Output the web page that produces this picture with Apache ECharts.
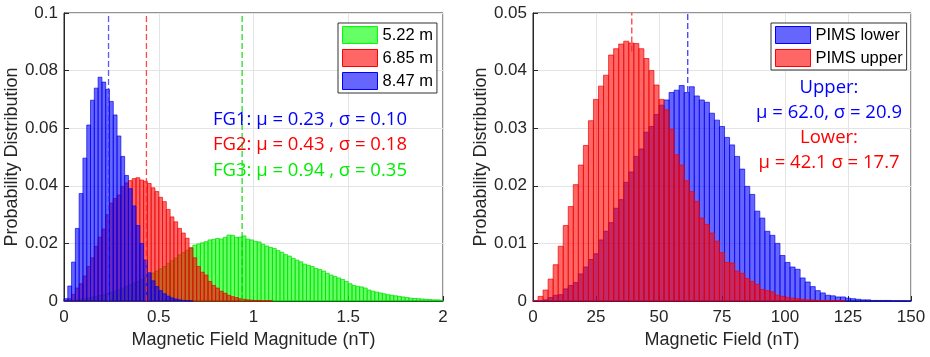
<!DOCTYPE html>
<html>
<head>
<meta charset="utf-8">
<script src="https://cdn.jsdelivr.net/npm/echarts@6/dist/echarts.min.js"></script>
<style>
html, body { margin: 0; padding: 0; background: #fff; }
#main { width: 930px; height: 357px; }
</style>
</head>
<body>
<div id="main"></div>
<script>
// left panel: fluxgate histograms, bins of 0.02 nT starting at 0
var fgBinWidth = 0.02;
var fg522 = [0,0.0001,0.0002,0.0004,0.0006,0.0008,0.0010,0.0013,0.0016,0.0019,
  0.0022,0.0026,0.0030,0.0034,0.0039,0.0045,0.0051,0.0056,0.0062,0.0068,
  0.0074,0.0082,0.0090,0.0097,0.0104,0.0112,0.0120,0.0131,0.0140,0.0149,
  0.0160,0.0168,0.0176,0.0184,0.0194,0.0198,0.0202,0.0206,0.0212,0.0214,
  0.0217,0.0215,0.0221,0.0229,0.0228,0.0221,0.0222,0.0226,0.0215,0.0212,
  0.0207,0.0205,0.0197,0.0191,0.0186,0.0182,0.0175,0.0169,0.0161,0.0156,
  0.0148,0.0142,0.0136,0.0128,0.0124,0.0120,0.0113,0.0109,0.0104,0.0096,
  0.0090,0.0085,0.0080,0.0075,0.0068,0.0060,0.0054,0.0051,0.0049,0.0045,
  0.0038,0.0034,0.0031,0.0028,0.0025,0.0022,0.0020,0.0018,0.0016,0.0014,
  0.0012,0.0010,0.0009,0.0008,0.0007,0.0006,0.0005,0.0004,0.0004,0.0003];
var fg685 = [0.0002,0.0008,0.0023,0.0045,0.0060,0.0087,0.0120,0.0150,0.0190,0.0222,
  0.0250,0.0300,0.0340,0.0356,0.0368,0.0398,0.0410,0.0418,0.0425,0.0428,
  0.0420,0.0416,0.0408,0.0393,0.0380,0.0360,0.0345,0.0318,0.0292,0.0275,
  0.0252,0.0236,0.0218,0.0185,0.0150,0.0120,0.0100,0.0090,0.0068,0.0054,
  0.0045,0.0034,0.0027,0.0020,0.0015,0.0012,0.0008,0.0006,0.0004,0.0003,
  0.0002,0.0002,0.0001,0.0001,0.0001];
var fg847 = [0.0008,0.0052,0.0135,0.0252,0.0373,0.0496,0.0611,0.0697,0.0739,0.0777,
  0.0760,0.0735,0.0693,0.0646,0.0573,0.0502,0.0436,0.0390,0.0330,0.0262,
  0.0200,0.0142,0.0098,0.0070,0.0050,0.0036,0.0025,0.0017,0.0011,0.0007,
  0.0004,0.0002,0.0001,0.0001];
var fgNames = ['5.22 m', '6.85 m', '8.47 m'];
var fgMeanLines = [0.94, 0.435, 0.235];
var fgLabels = ['FG1: μ = 0.23 , σ = 0.10', 'FG2: μ = 0.43 , σ = 0.18', 'FG3: μ = 0.94 , σ = 0.35'];

// right panel: PIMS histograms, bins of 2 nT starting at 0
var pimsBinWidth = 2;
var pimsLower = [0,0,0.0002,0.0006,0.0010,0.0011,0.0021,0.0027,0.0032,0.0047,
  0.0059,0.0072,0.0082,0.0106,0.0121,0.0136,0.0161,0.0176,0.0206,0.0224,
  0.0251,0.0264,0.0293,0.0303,0.0324,0.0340,0.0349,0.0362,0.0366,0.0374,
  0.0362,0.0372,0.0356,0.0349,0.0345,0.0326,0.0314,0.0303,0.0284,0.0271,
  0.0251,0.0229,0.0199,0.0185,0.0156,0.0144,0.0121,0.0114,0.0100,0.0079,
  0.0067,0.0059,0.0055,0.0040,0.0033,0.0025,0.0018,0.0014,0.0010,0.0009,
  0.0007,0.0007,0.0005,0.0004,0.0003,0.0002,0.0002,0.0001,0.0001,0.0001,
  0.0001,0.00005,0.00005,0.00005,0.00003];
var pimsUpper = [0.0001,0.0008,0.0019,0.0038,0.0063,0.0095,0.0131,0.0164,0.0202,0.0236,
  0.0270,0.0313,0.0350,0.0373,0.0392,0.0427,0.0438,0.0446,0.0451,0.0448,
  0.0447,0.0438,0.0421,0.0400,0.0375,0.0350,0.0332,0.0298,0.0254,0.0236,
  0.0209,0.0190,0.0173,0.0144,0.0133,0.0118,0.0104,0.0084,0.0067,0.0066,
  0.0052,0.0048,0.0039,0.0034,0.0029,0.0020,0.0018,0.0016,0.0010,0.0008,
  0.0006,0.0005,0.0004,0.0003,0.0002,0.0002,0.0001,0.0001,0.0001,0.00005,
  0.00005,0.00003];
var pimsNames = ['PIMS lower', 'PIMS upper'];
// dashed marker: x position, and the y where it stops
var pimsLowerLine = [61.4, 0.0363];
var pimsUpperLine = [39.2, 0.0433];

var fillGreen = 'rgba(0,255,0,0.6)', fillRed = 'rgba(255,0,0,0.6)', fillBlue = 'rgba(0,0,255,0.6)';
var edgeGreen = 'rgba(0,220,0,0.8)', edgeRed = 'rgba(235,0,0,0.75)', edgeBlue = 'rgba(0,0,235,0.75)';
var axisColor = '#262626';
var font = '"Liberation Sans", Arial, sans-serif';

function toBins(vals, w) {
  return vals.map(function (v, i) { return [i * w, (i + 1) * w, v]; });
}

function histRender(fill, edge) {
  return function (params, api) {
    var a = api.coord([api.value(0), 0]);
    var b = api.coord([api.value(1), api.value(2)]);
    return {
      type: 'rect',
      shape: { x: a[0], y: b[1], width: b[0] - a[0], height: a[1] - b[1] },
      style: { fill: fill, stroke: edge, lineWidth: 0.9 }
    };
  };
}

function histSeries(name, vals, w, idx, fill, edge) {
  return {
    name: name,
    type: 'custom',
    xAxisIndex: idx,
    yAxisIndex: idx,
    renderItem: histRender(fill, edge),
    itemStyle: { color: fill, borderColor: edge },
    encode: { x: [0, 1], y: 2 },
    data: toBins(vals, w),
    silent: true
  };
}

function dashLine(x, y0, y1, idx, color) {
  return {
    type: 'line',
    xAxisIndex: idx,
    yAxisIndex: idx,
    symbol: 'none',
    silent: true,
    lineStyle: { color: color, width: 1.3, type: [6, 3] },
    data: [[x, y0], [x, y1]]
  };
}

function xAx(idx, max, interval, name) {
  return {
    type: 'value', gridIndex: idx, min: 0, max: max, interval: interval,
    name: name, nameLocation: 'middle', nameGap: 30,
    nameTextStyle: { fontSize: 18, fontFamily: font, color: axisColor },
    axisLine: { lineStyle: { color: axisColor } },
    axisTick: { inside: true, length: 5, lineStyle: { color: axisColor } },
    axisLabel: { fontSize: 17, fontFamily: font, color: axisColor, margin: 8 },
    splitLine: { show: true, lineStyle: { color: '#e4e4e4' } }
  };
}

function yAx(idx, max, interval) {
  return {
    type: 'value', gridIndex: idx, min: 0, max: max, interval: interval,
    name: 'Probability Distribution', nameLocation: 'middle', nameGap: 38,
    nameTextStyle: { fontSize: 18, fontFamily: font, color: axisColor },
    axisLine: { show: true, lineStyle: { color: axisColor } },
    axisTick: { show: true, inside: true, length: 5, lineStyle: { color: axisColor } },
    axisLabel: { fontSize: 17, fontFamily: font, color: axisColor, margin: 6 },
    splitLine: { show: true, lineStyle: { color: '#e4e4e4' } }
  };
}

function legendItem(name, fill, edge) {
  return { name: name, icon: 'rect', itemStyle: { color: fill, borderColor: edge, borderWidth: 1 } };
}

var legendBase = {
  orient: 'vertical', selectedMode: false,
  itemWidth: 35, itemHeight: 17, itemGap: 5,
  padding: [3, 4, 3, 4],
  backgroundColor: '#fff', borderColor: '#333', borderWidth: 1,
  textStyle: { fontSize: 16.5, fontFamily: font, color: '#000' }
};

var annoFont = '"Open Sans", "Noto Sans", sans-serif';
function annoText(txt, x, y, color, align) {
  return {
    type: 'text', x: x, y: y, z: 100,
    style: { text: txt, fill: color, fontSize: 18.5, fontFamily: annoFont,
             textAlign: align, textVerticalAlign: 'middle' }
  };
}

var chart = echarts.init(document.getElementById('main'));
chart.setOption({
  animation: false,
  backgroundColor: '#fff',
  grid: [
    { left: 64, top: 13, width: 379, height: 288, show: true, borderColor: axisColor, borderWidth: 1 },
    { left: 533, top: 13, width: 378, height: 288, show: true, borderColor: axisColor, borderWidth: 1 }
  ],
  xAxis: [
    xAx(0, 2, 0.5, 'Magnetic Field Magnitude (nT)'),
    xAx(1, 150, 25, 'Magnetic Field (nT)')
  ],
  yAxis: [yAx(0, 0.1, 0.02), yAx(1, 0.05, 0.01)],
  legend: [
    Object.assign({}, legendBase, {
      left: 338, top: 23,
      data: [legendItem(fgNames[0], fillGreen, '#00ff00'),
             legendItem(fgNames[1], fillRed, '#ff0000'),
             legendItem(fgNames[2], fillBlue, '#0000ff')]
    }),
    Object.assign({}, legendBase, {
      left: 771, top: 23,
      data: [legendItem(pimsNames[0], fillBlue, '#0000ff'),
             legendItem(pimsNames[1], fillRed, '#ff0000')]
    })
  ],
  series: [
    dashLine(fgMeanLines[0], 0, 0.1, 0, 'rgba(0,210,0,0.85)'),
    dashLine(fgMeanLines[1], 0, 0.1, 0, 'rgba(255,40,40,0.85)'),
    dashLine(fgMeanLines[2], 0, 0.1, 0, 'rgba(60,60,255,0.85)'),
    histSeries(fgNames[0], fg522, fgBinWidth, 0, fillGreen, edgeGreen),
    histSeries(fgNames[1], fg685, fgBinWidth, 0, fillRed, edgeRed),
    histSeries(fgNames[2], fg847, fgBinWidth, 0, fillBlue, edgeBlue),
    histSeries(pimsNames[0], pimsLower, pimsBinWidth, 1, fillBlue, edgeBlue),
    histSeries(pimsNames[1], pimsUpper, pimsBinWidth, 1, fillRed, edgeRed),
    dashLine(pimsLowerLine[0], pimsLowerLine[1], 0.05, 1, 'rgba(40,40,255,0.9)'),
    dashLine(pimsUpperLine[0], pimsUpperLine[1], 0.05, 1, 'rgba(255,40,40,0.9)')
  ],
  graphic: [
    annoText(fgLabels[0], 213, 120, '#0000ff', 'left'),
    annoText(fgLabels[1], 213, 145, '#ff0000', 'left'),
    annoText(fgLabels[2], 213, 170.5, '#00ee00', 'left'),
    annoText('Upper:', 829, 88, '#0000ff', 'center'),
    annoText('μ = 62.0, σ = 20.9', 829, 113, '#0000ff', 'center'),
    annoText('Lower:', 829, 137.5, '#ff0000', 'center'),
    annoText('μ = 42.1 σ = 17.7', 829, 163, '#ff0000', 'center')
  ]
});
</script>
</body>
</html>
